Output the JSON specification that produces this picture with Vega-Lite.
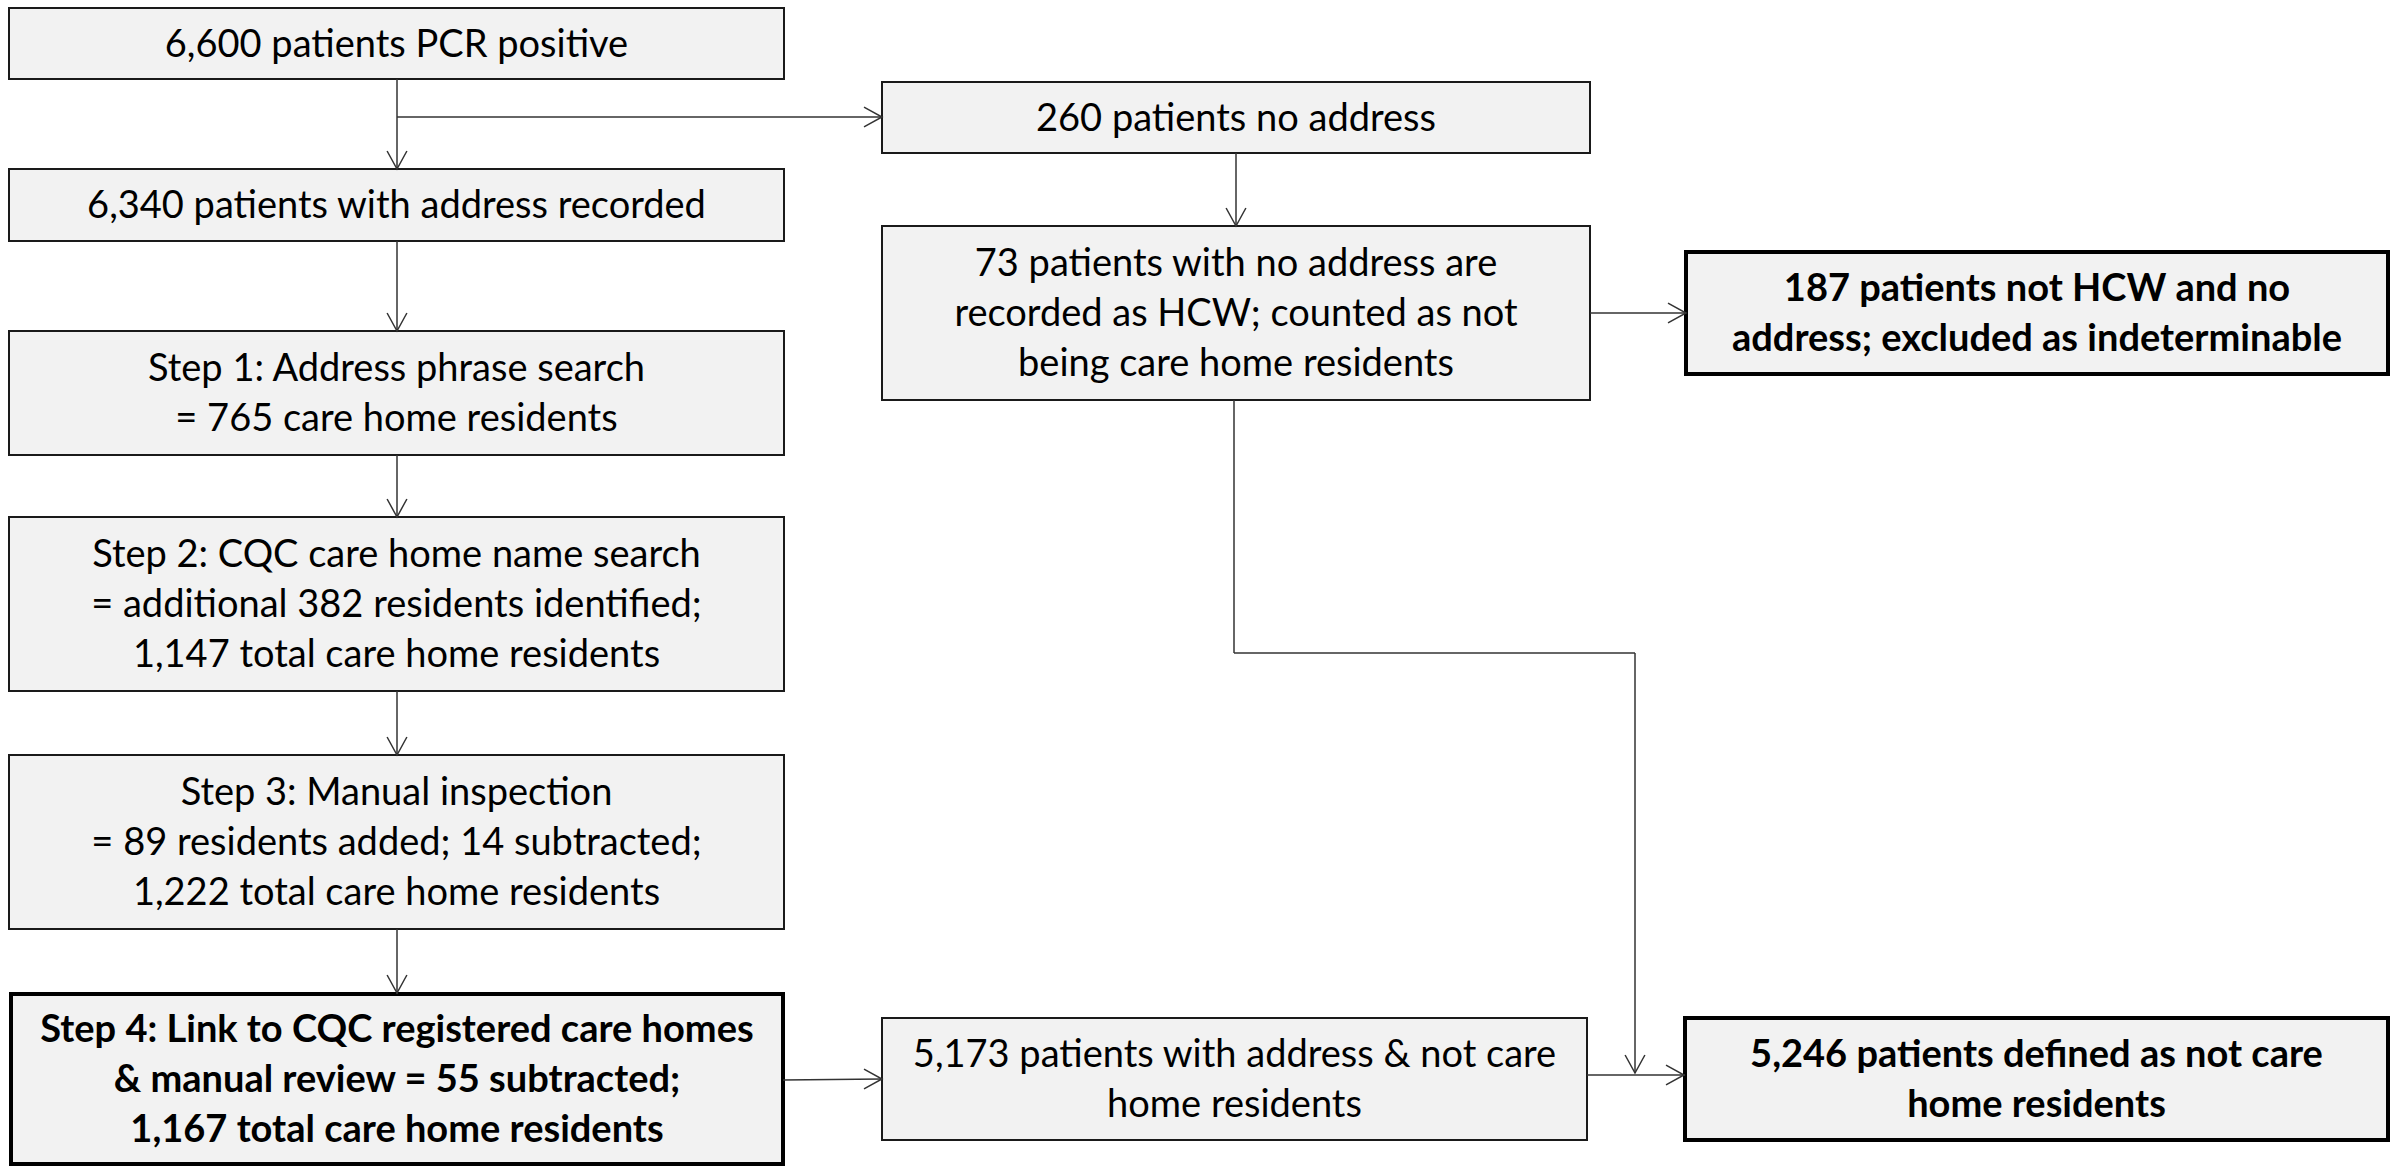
{
  "$schema": "https://vega.github.io/schema/vega-lite/v6.json",
  "width": 2392,
  "height": 1166,
  "autosize": "none",
  "padding": 0,
  "background": "white",
  "config": {"view": {"stroke": null}},
  "datasets": {
    "boxes": [
      {"id": "b1", "x1": 9, "x2": 784, "y1": 8, "y2": 79, "bold": 0, "label": "6,600 patients PCR positive"},
      {"id": "b2", "x1": 882, "x2": 1590, "y1": 82, "y2": 153, "bold": 0, "label": "260 patients no address"},
      {"id": "b3", "x1": 9, "x2": 784, "y1": 169, "y2": 241, "bold": 0, "label": "6,340 patients with address recorded"},
      {"id": "b4", "x1": 882, "x2": 1590, "y1": 226, "y2": 400, "bold": 0, "label": "73 patients with no address are|recorded as HCW; counted as not|being care home residents"},
      {"id": "b5", "x1": 1686, "x2": 2388, "y1": 252, "y2": 374, "bold": 1, "label": "187 patients not HCW and no|address; excluded as indeterminable"},
      {"id": "b6", "x1": 9, "x2": 784, "y1": 331, "y2": 455, "bold": 0, "label": "Step 1: Address phrase search|= 765 care home residents"},
      {"id": "b7", "x1": 9, "x2": 784, "y1": 517, "y2": 691, "bold": 0, "label": "Step 2: CQC care home name search|= additional 382 residents identified;|1,147 total care home residents"},
      {"id": "b8", "x1": 9, "x2": 784, "y1": 755, "y2": 929, "bold": 0, "label": "Step 3: Manual inspection|= 89 residents added; 14 subtracted;|1,222 total care home residents"},
      {"id": "b9", "x1": 11, "x2": 783, "y1": 994, "y2": 1164, "bold": 1, "label": "Step 4: Link to CQC registered care homes|& manual review = 55 subtracted;|1,167 total care home residents"},
      {"id": "b10", "x1": 882, "x2": 1587, "y1": 1018, "y2": 1140, "bold": 0, "label": "5,173 patients with address & not care|home residents"},
      {"id": "b11", "x1": 1685, "x2": 2388, "y1": 1018, "y2": 1140, "bold": 1, "label": "5,246 patients defined as not care|home residents"}
    ],
    "lines": [
      {"x1": 397, "y1": 79, "x2": 397, "y2": 169},
      {"x1": 397, "y1": 117, "x2": 882, "y2": 117},
      {"x1": 1236, "y1": 153, "x2": 1236, "y2": 226},
      {"x1": 1590, "y1": 313, "x2": 1686, "y2": 313},
      {"x1": 397, "y1": 241, "x2": 397, "y2": 331},
      {"x1": 397, "y1": 455, "x2": 397, "y2": 517},
      {"x1": 397, "y1": 691, "x2": 397, "y2": 755},
      {"x1": 397, "y1": 929, "x2": 397, "y2": 994},
      {"x1": 1234, "y1": 400, "x2": 1234, "y2": 653},
      {"x1": 1234, "y1": 653, "x2": 1635, "y2": 653},
      {"x1": 1635, "y1": 653, "x2": 1635, "y2": 1073},
      {"x1": 783, "y1": 1080, "x2": 882, "y2": 1079},
      {"x1": 1587, "y1": 1075, "x2": 1685, "y2": 1075}
    ],
    "heads": [
      {"x": 397, "y": 169, "ang": 90},
      {"x": 882, "y": 117, "ang": 0},
      {"x": 1236, "y": 226, "ang": 90},
      {"x": 1686, "y": 313, "ang": 0},
      {"x": 397, "y": 331, "ang": 90},
      {"x": 397, "y": 517, "ang": 90},
      {"x": 397, "y": 755, "ang": 90},
      {"x": 397, "y": 993, "ang": 90},
      {"x": 1635, "y": 1073, "ang": 90},
      {"x": 882, "y": 1079, "ang": 0},
      {"x": 1684, "y": 1075, "ang": 0}
    ]
  },
  "layer": [
    {
      "data": {"name": "boxes"},
      "transform": [{"filter": "datum.bold == 0"}],
      "mark": {"type": "rect", "fill": "#f2f2f2", "stroke": "#1a1a1a", "strokeWidth": 2},
      "encoding": {
        "x": {"field": "x1", "type": "quantitative", "scale": {"domain": [0, 2392], "nice": false, "zero": false}, "axis": null},
        "x2": {"field": "x2"},
        "y": {"field": "y1", "type": "quantitative", "scale": {"domain": [0, 1166], "nice": false, "zero": false, "reverse": true}, "axis": null},
        "y2": {"field": "y2"}
      }
    },
    {
      "data": {"name": "boxes"},
      "transform": [{"filter": "datum.bold == 1"}],
      "mark": {"type": "rect", "fill": "#f2f2f2", "stroke": "#000000", "strokeWidth": 4},
      "encoding": {
        "x": {"field": "x1", "type": "quantitative", "axis": null},
        "x2": {"field": "x2"},
        "y": {"field": "y1", "type": "quantitative", "axis": null},
        "y2": {"field": "y2"}
      }
    },
    {
      "data": {"name": "lines"},
      "mark": {"type": "rule", "stroke": "#333333", "strokeWidth": 1.5},
      "encoding": {
        "x": {"field": "x1", "type": "quantitative", "axis": null},
        "x2": {"field": "x2"},
        "y": {"field": "y1", "type": "quantitative", "axis": null},
        "y2": {"field": "y2"}
      }
    },
    {
      "data": {"name": "heads"},
      "mark": {"type": "point", "shape": "M-1,-0.55L0,0L-1,0.55", "filled": false, "stroke": "#333333", "strokeWidth": 1.5, "size": 1296, "opacity": 1},
      "encoding": {
        "x": {"field": "x", "type": "quantitative", "axis": null},
        "y": {"field": "y", "type": "quantitative", "axis": null},
        "angle": {"field": "ang", "type": "quantitative", "scale": null}
      }
    },
    {
      "data": {"name": "boxes"},
      "transform": [
        {"filter": "datum.bold == 0"},
        {"calculate": "(datum.x1 + datum.x2) / 2", "as": "cx"},
        {"calculate": "(datum.y1 + datum.y2) / 2 + 2 - (length(split(datum.label, '|')) - 1) * 25", "as": "cy"}
      ],
      "mark": {"type": "text", "font": "Lato", "fontSize": 38, "lineBreak": "|", "lineHeight": 50, "align": "center", "baseline": "middle", "color": "#000000"},
      "encoding": {
        "x": {"field": "cx", "type": "quantitative", "axis": null},
        "y": {"field": "cy", "type": "quantitative", "axis": null},
        "text": {"field": "label"}
      }
    },
    {
      "data": {"name": "boxes"},
      "transform": [
        {"filter": "datum.bold == 1"},
        {"calculate": "(datum.x1 + datum.x2) / 2", "as": "cx"},
        {"calculate": "(datum.y1 + datum.y2) / 2 + 2 - (length(split(datum.label, '|')) - 1) * 25", "as": "cy"}
      ],
      "mark": {"type": "text", "font": "Lato", "fontWeight": 700, "fontSize": 38, "lineBreak": "|", "lineHeight": 50, "align": "center", "baseline": "middle", "color": "#000000"},
      "encoding": {
        "x": {"field": "cx", "type": "quantitative", "axis": null},
        "y": {"field": "cy", "type": "quantitative", "axis": null},
        "text": {"field": "label"}
      }
    }
  ]
}
